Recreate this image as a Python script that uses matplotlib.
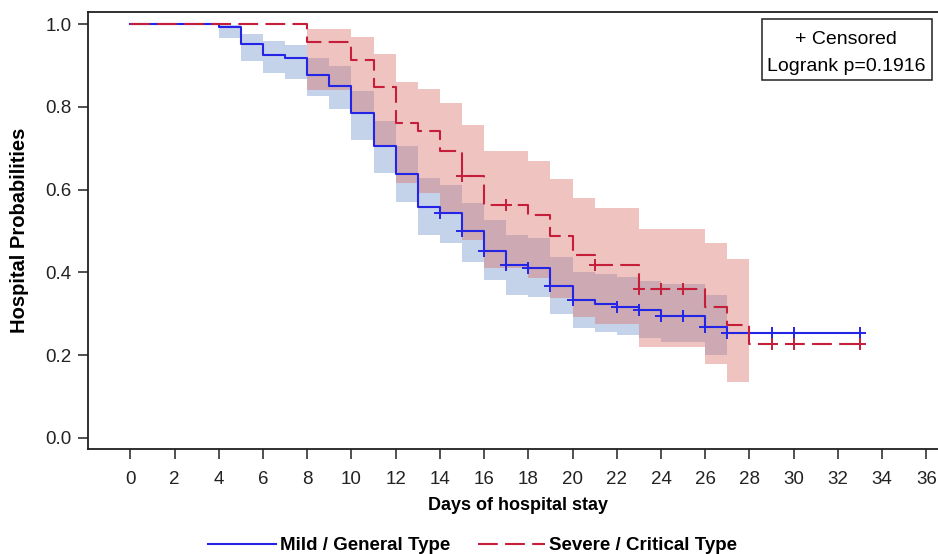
import numpy as np
import matplotlib
matplotlib.use('Agg')
import matplotlib.pyplot as plt
from matplotlib.patches import Rectangle
from matplotlib.lines import Line2D

plt.rcParams['font.family'] = ['Liberation Sans', 'DejaVu Sans']

#==========================================================
# Kaplan-Meier data
#==========================================================

# Mild / General Type
t_mild = [0, 4, 5, 6, 7, 8, 9, 10, 11, 12, 13, 14, 15, 16, 17, 18, 19, 20, 21, 22, 23, 24, 26, 27, 33]
s_mild = [1.0, 0.994, 0.953, 0.926, 0.917, 0.878, 0.850, 0.785, 0.706, 0.637, 0.559, 0.544, 0.500,
          0.452, 0.418, 0.410, 0.367, 0.332, 0.324, 0.316, 0.309, 0.295, 0.269, 0.253, 0.253]
ci_t_mild = [4, 5, 6, 7, 8, 9, 10, 11, 12, 13, 14, 15, 16, 17, 18, 19, 20, 21, 22, 23, 24, 26, 27]
ci_hi_mild = [0.999, 0.977, 0.958, 0.950, 0.919, 0.899, 0.839, 0.767, 0.705, 0.628, 0.611, 0.567,
              0.527, 0.490, 0.482, 0.438, 0.402, 0.395, 0.388, 0.380, 0.372, 0.345, 0.345]
ci_lo_mild = [0.967, 0.912, 0.881, 0.868, 0.827, 0.795, 0.720, 0.639, 0.570, 0.490, 0.470, 0.426,
              0.382, 0.345, 0.341, 0.299, 0.265, 0.257, 0.249, 0.242, 0.232, 0.200, 0.200]
cens_mild = [14, 15, 16, 17, 18, 19, 20, 22, 23, 24, 25, 26, 27, 29, 30, 33]

# Severe / Critical Type
t_sev = [0, 8, 10, 11, 12, 13, 14, 15, 16, 18, 19, 20, 21, 23, 26, 27, 28, 33]
s_sev = [1.0, 0.956, 0.913, 0.847, 0.761, 0.742, 0.694, 0.632, 0.562, 0.538, 0.488, 0.442,
         0.418, 0.359, 0.317, 0.273, 0.227, 0.227]
ci_t_sev = [8, 10, 11, 12, 13, 14, 15, 16, 18, 19, 20, 21, 23, 26, 27, 28]
ci_hi_sev = [0.989, 0.969, 0.927, 0.860, 0.844, 0.809, 0.755, 0.693, 0.669, 0.625, 0.579, 0.555,
             0.505, 0.470, 0.432, 0.432]
ci_lo_sev = [0.841, 0.785, 0.706, 0.615, 0.591, 0.547, 0.478, 0.410, 0.386, 0.337, 0.293, 0.275,
             0.220, 0.178, 0.135, 0.135]
cens_sev = [15, 17, 21, 23, 24, 25, 29, 30, 33]

labels = ['Mild / General Type', 'Severe / Critical Type']
logrank_p = 0.1916

x_ticks = np.arange(0, 37, 2)
y_ticks = np.arange(0, 1.01, 0.2)

#==========================================================
# Plot
#==========================================================

blue = '#2424E6'
red = '#C41E3A'

def surv_at(times, surv, pts):
    idx = np.searchsorted(times, pts, side='right') - 1
    return np.asarray(surv)[idx]

fig = plt.figure(figsize=(9.38, 5.54), dpi=100)
ax = fig.add_axes([0.0941, 0.1895, 0.917, 0.7894])

# confidence bands
ax.fill_between(ci_t_mild, ci_lo_mild, ci_hi_mild, step='post', color='#C4D2EA', lw=0, zorder=1)
ax.fill_between(ci_t_sev, ci_lo_sev, ci_hi_sev, step='post', color=(218/255, 110/255, 100/255),
                alpha=0.407, lw=0, zorder=2)

# survival curves
ax.step(t_mild, s_mild, where='post', color=blue, lw=1.5, zorder=3)
ax.step(t_sev, s_sev, where='post', color=red, lw=1.5, dashes=(9.5, 3.5), zorder=4)

# censor marks
ax.plot(cens_mild, surv_at(t_mild, s_mild, cens_mild), ls='none', marker='+', ms=9, mew=1.4,
        color=blue, zorder=5)
ax.plot(cens_sev, surv_at(t_sev, s_sev, cens_sev), ls='none', marker='+', ms=9, mew=1.4,
        color=red, zorder=6)

ax.set_xlim(-1.9, 37.0)
ax.set_ylim(-0.027, 1.030)
ax.set_xticks(x_ticks)
ax.set_yticks(y_ticks)
ax.set_yticklabels([f'{v:.1f}' for v in y_ticks])
ax.tick_params(direction='out', length=7, width=1.1, labelsize=13.5, color='#202020',
               labelcolor='#222222')
ax.tick_params(axis='x', pad=9)
ax.tick_params(axis='y', pad=5)
for sp in ax.spines.values():
    sp.set_linewidth(1.3)
    sp.set_color('#202020')

ax.set_xlabel('Days of hospital stay', fontsize=13, fontweight='bold', labelpad=6)
ax.set_ylabel('Hospital Probabilities', fontsize=14.5, fontweight='bold', labelpad=12)

# inset box
fig.patches.append(Rectangle((762/938, 1-80/554), 170/938, 61/554, transform=fig.transFigure,
                             fill=False, edgecolor='#202020', lw=1.1))
fig.text(846/938, 1-39/554, '+ Censored', ha='center', va='center', fontsize=14)
fig.text(846/938, 1-67/554, f'Logrank p={logrank_p}', ha='center', va='center', fontsize=14)

# legend
handles = [Line2D([], [], color=blue, lw=1.5),
           Line2D([], [], color=red, lw=1.5, dashes=(9.5, 3.5))]
fig.legend(handles, labels, loc='center', bbox_to_anchor=(0.504, 0.015), ncol=2, frameon=False,
           prop={'size': 13.5, 'weight': 'bold'}, handlelength=3.6, handletextpad=0.2,
           columnspacing=1.5)

plt.savefig('out.png', dpi=100)
